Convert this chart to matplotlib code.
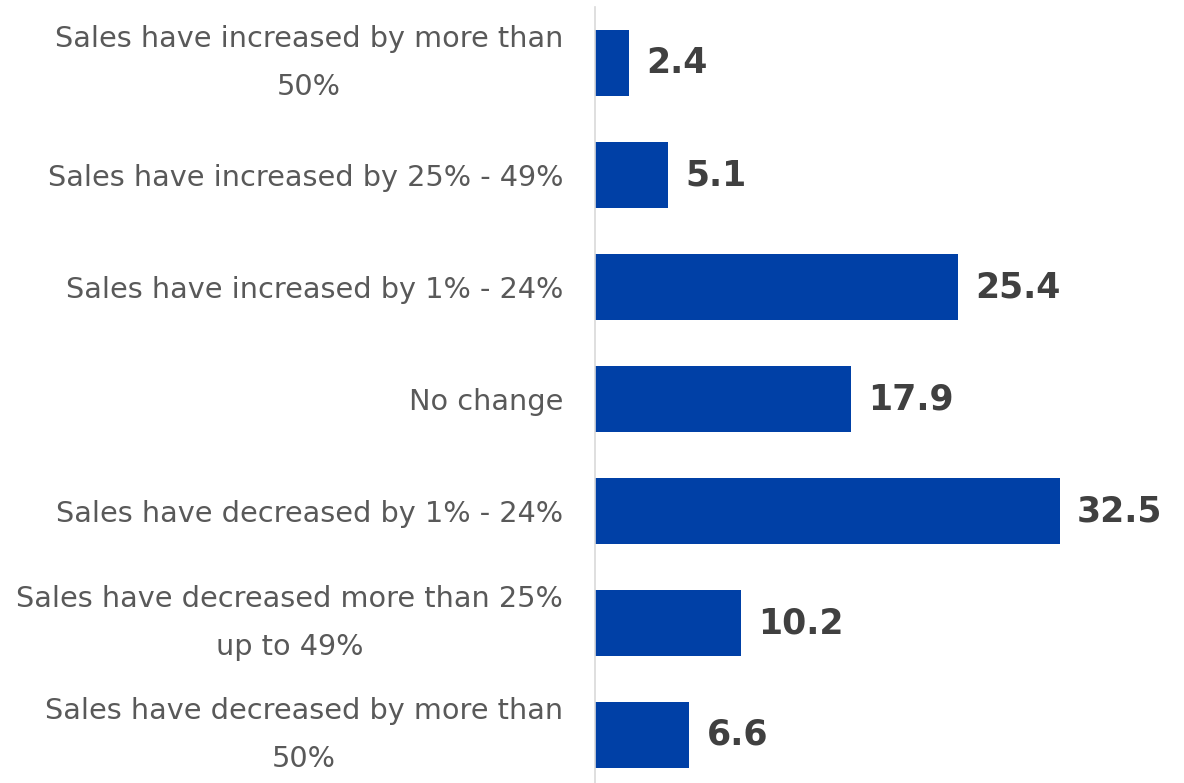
import matplotlib
matplotlib.use("Agg")
import matplotlib.pyplot as plt

categories = [
    "Sales have increased by more than\n50%",
    "Sales have increased by 25% - 49%",
    "Sales have increased by 1% - 24%",
    "No change",
    "Sales have decreased by 1% - 24%",
    "Sales have decreased more than 25%\nup to 49%",
    "Sales have decreased by more than\n50%",
]
values = [2.4, 5.1, 25.4, 17.9, 32.5, 10.2, 6.6]

W, H = 1184, 783
fig = plt.figure(figsize=(W / 100, H / 100), dpi=100)
left = 595 / W
ax = fig.add_axes([left, (H - 791) / H, 1 - left, 784 / H])

pos = list(range(len(categories)))
ax.barh(pos, values, height=0.59, color="#0040A6")
ax.set_ylim(6.5, -0.5)
ax.set_xlim(0, 41.2)

for p, v in zip(pos, values):
    ax.text(v + 1.2, p, f"{v}", va="center", ha="left", fontsize=25,
            fontweight="bold", color="#404040")

ax.set_yticks(pos)
ax.set_yticklabels(categories, fontsize=20.7, color="#595959",
                   multialignment="center", linespacing=1.9)
for lbl in ax.get_yticklabels():
    if "\n" in lbl.get_text():
        lbl.set_va("center")
ax.tick_params(axis="y", length=0, pad=23)
ax.set_xticks([])
for s in ["top", "right", "bottom"]:
    ax.spines[s].set_visible(False)
ax.spines["left"].set_color("#D9D9D9")
ax.spines["left"].set_linewidth(1.2)

fig.savefig("out.png", dpi=100)
